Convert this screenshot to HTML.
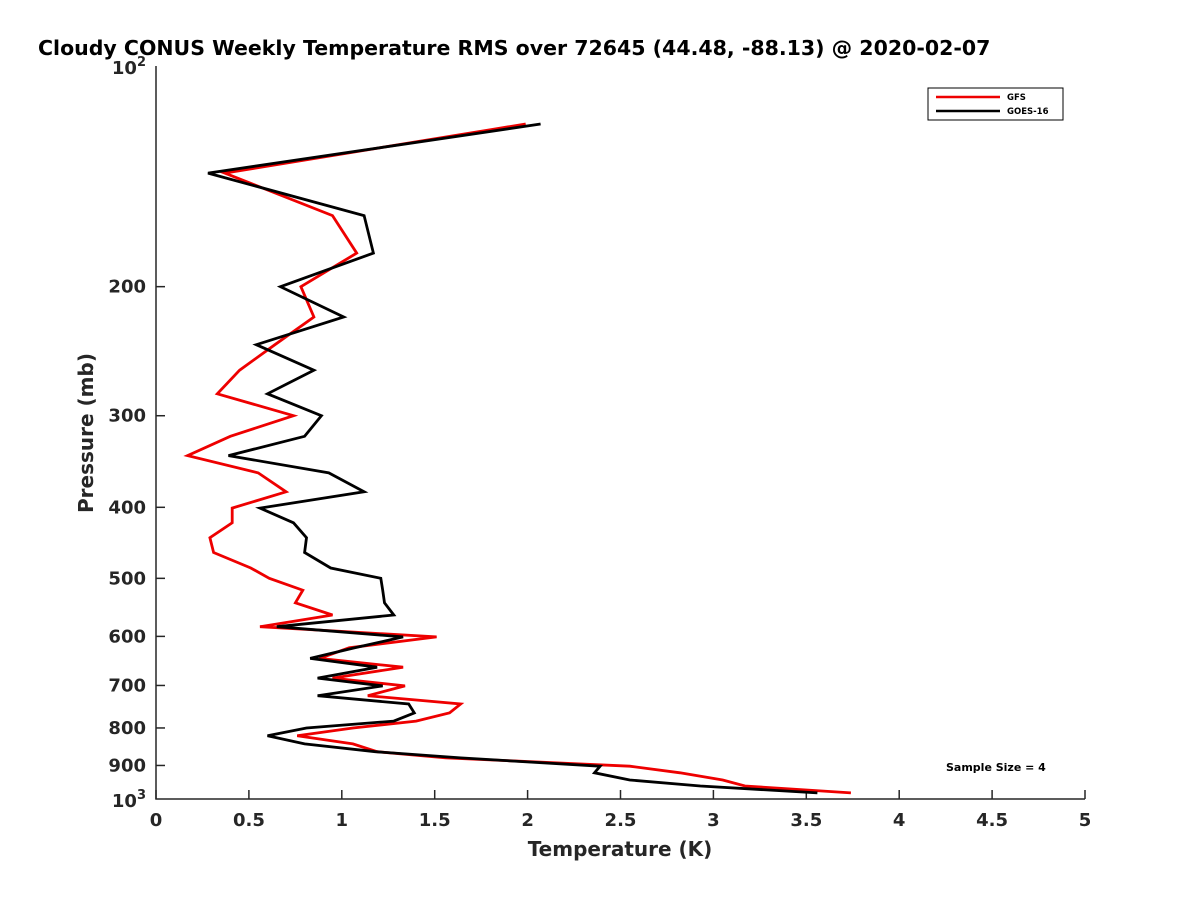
<!DOCTYPE html>
<html><head><meta charset="utf-8"><style>
body{margin:0;background:#fff;}
svg{display:block;font-family:"DejaVu Sans","Liberation Sans",sans-serif;}
</style></head><body>
<svg id="chart" width="1200" height="900" viewBox="0 0 1200 900" xmlns="http://www.w3.org/2000/svg">
<rect width="1200" height="900" fill="#fff"/>
<text x="38" y="55" font-size="20.5" font-weight="bold" fill="#000">Cloudy CONUS Weekly Temperature RMS over 72645 (44.48, -88.13) @ 2020-02-07</text>
<g id="axes"></g>
<g id="series"></g>
<g>
<rect x="928" y="88" width="135" height="32" fill="#fff" stroke="#000" stroke-width="1"/>
<line x1="936" y1="97" x2="1000" y2="97" stroke="#e00" stroke-width="2.5"/>
<text x="1007" y="100" font-size="8.5" font-weight="bold">GFS</text>
<line x1="936" y1="111" x2="1000" y2="111" stroke="#000" stroke-width="2.5"/>
<text x="1007" y="114" font-size="8.5" font-weight="bold">GOES-16</text>
</g>
<text x="946" y="771" font-size="11" font-weight="bold">Sample Size = 4</text>
<text x="620" y="856" font-size="20" font-weight="bold" text-anchor="middle" fill="#262626">Temperature (K)</text>
<text transform="translate(93,433) rotate(-90)" font-size="20" font-weight="bold" text-anchor="middle" fill="#262626">Pressure (mb)</text>
</svg>
<script>
const pressures=[120,140,160,180,200,220,240,260,280,300,320,340,359,381,401,420,440,461,484,500,519,540,561,582,601,622,643,661,684,701,723,742,763,783,800,820,841,862,879,902,921,942,960,981];
const gfsRms=[1.99,0.37,0.95,1.08,0.78,0.85,0.64,0.45,0.33,0.74,0.40,0.17,0.55,0.70,0.41,0.41,0.29,0.31,0.51,0.61,0.79,0.75,0.95,0.56,1.51,1.04,0.88,1.33,0.95,1.34,1.14,1.64,1.58,1.40,1.06,0.76,1.06,1.19,1.56,2.55,2.82,3.05,3.17,3.74];
const goesRms=[2.07,0.28,1.12,1.17,0.67,1.01,0.54,0.85,0.60,0.89,0.80,0.39,0.93,1.12,0.56,0.74,0.81,0.80,0.94,1.21,1.22,1.23,1.28,0.65,1.33,1.07,0.83,1.19,0.87,1.22,0.87,1.36,1.39,1.28,0.81,0.60,0.80,1.18,1.64,2.39,2.36,2.55,2.93,3.56];
const xTicks=[0,0.5,1,1.5,2,2.5,3,3.5,4,4.5,5];
const xTickLabels=["0","0.5","1","1.5","2","2.5","3","3.5","4","4.5","5"];
const yTicks=[200,300,400,500,600,700,800,900];
const X0=156,X1=1085,Y0=66,Y1=799;
const xs=v=>X0+(v/5)*(X1-X0);
const ys=p=>Y0+(Math.log10(p)-2)*(Y1-Y0);
const NS="http://www.w3.org/2000/svg";
const axes=document.getElementById('axes'),ser=document.getElementById('series');
function mk(t,a,p){const e=document.createElementNS(NS,t);for(const k in a)e.setAttribute(k,a[k]);p.appendChild(e);return e;}
const ax=mk('path',{d:`M${X0},${Y0}V${Y1}H${X1}`,fill:'none',stroke:'#262626','stroke-width':1.5},axes);


xTicks.forEach((v,i)=>{const x=xs(v);
mk('line',{x1:x,y1:Y1,x2:x,y2:Y1-9,stroke:'#262626','stroke-width':1.5},axes);
const t=mk('text',{x:x,y:Y1+27,'font-size':18,'font-weight':'bold','text-anchor':'middle',fill:'#262626'},axes);
t.textContent=xTickLabels[i];

});
yTicks.forEach(p=>{const y=ys(p);
mk('line',{x1:X0,y1:y,x2:X0+9,y2:y,stroke:'#262626','stroke-width':1.5},axes);
const t=mk('text',{x:X0-10,y:y+6,'font-size':18,'font-weight':'bold','text-anchor':'end',fill:'#262626'},axes);
t.textContent=String(p);

});
[[100,'2'],[1000,'3']].forEach(([p,s])=>{const y=ys(p);
const t=mk('text',{x:X0-10,y:y+8,'font-size':18,'font-weight':'bold','text-anchor':'end',fill:'#262626'},axes);
t.innerHTML='10<tspan dy="-8" font-size="13">'+s+'</tspan>';

});
function line(vals,col,name){const d=vals.map((v,i)=>(i?'L':'M')+xs(v).toFixed(1)+','+ys(pressures[i]).toFixed(1)).join('');
const e=mk('path',{d:d,fill:'none',stroke:col,'stroke-width':2.8,'stroke-linejoin':'miter'},ser);

}
line(gfsRms,'#e00','gfs-line');
line(goesRms,'#000','goes16-line');
</script>
</body></html>
